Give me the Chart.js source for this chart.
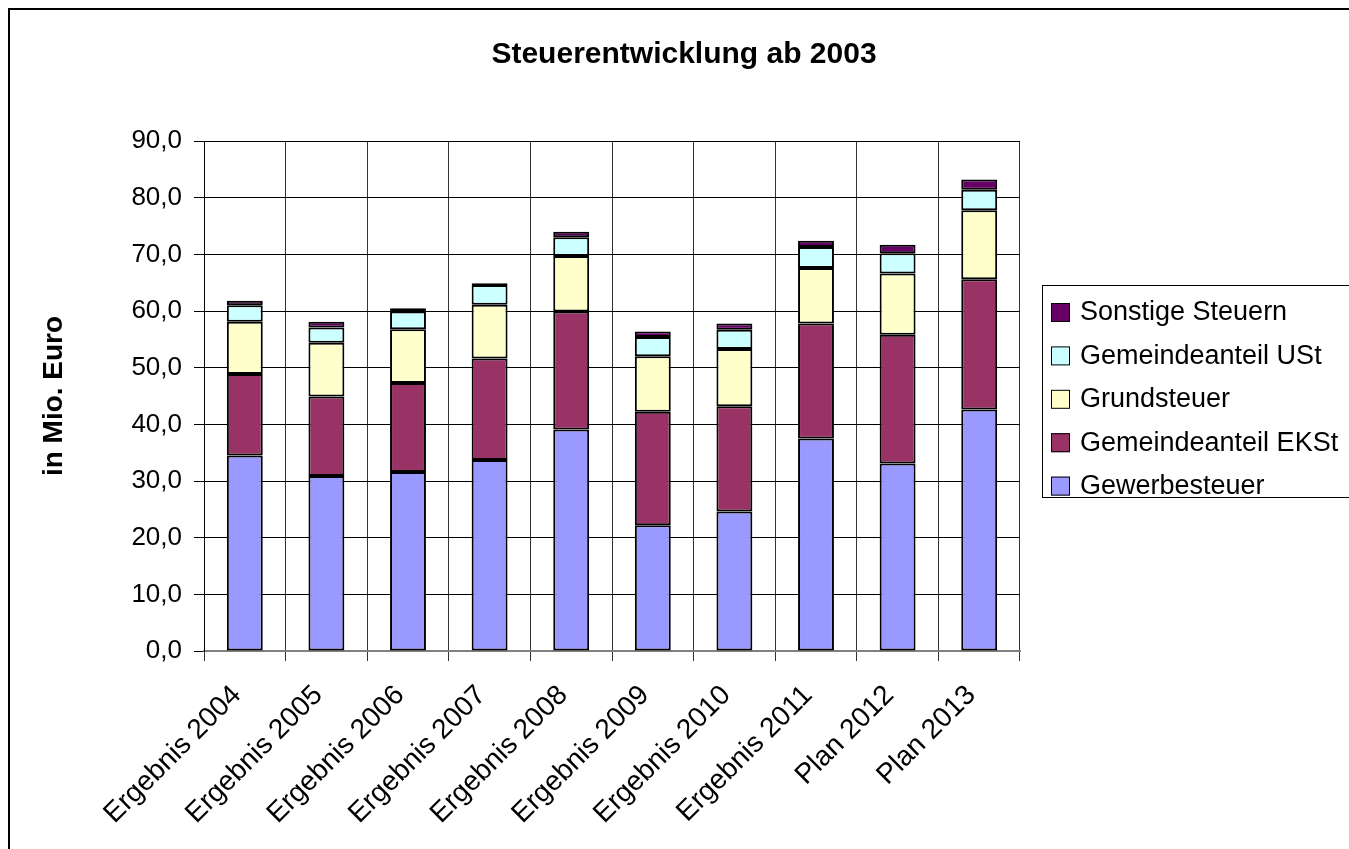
<!DOCTYPE html>
<html>
<head>
<meta charset="utf-8">
<script src="https://cdn.jsdelivr.net/npm/chart.js@4"></script>
<style>
html,body{margin:0;padding:0;background:#fff;}
#wrap{position:relative;width:1349px;height:849px;}
</style>
</head>
<body>
<div id="wrap"><canvas id="c" width="1349" height="849"></canvas></div>
<script>
const categories = ["Ergebnis 2004","Ergebnis 2005","Ergebnis 2006","Ergebnis 2007","Ergebnis 2008","Ergebnis 2009","Ergebnis 2010","Ergebnis 2011","Plan 2012","Plan 2013"];
const gewerbesteuer     = [34.5, 30.9, 31.6, 33.7, 39.1, 22.2, 24.6, 37.5, 33.1, 42.6];
const gemeindeanteilEKSt = [14.4, 14.0, 15.7, 17.9, 20.8, 20.0, 18.6, 20.3, 22.7, 23.0];
const grundsteuer       = [ 9.2,  9.5,  9.5,  9.5,  9.8,  9.8, 10.1,  9.8, 10.8, 12.2];
const gemeindeanteilUSt = [ 2.9,  2.7,  3.1,  3.5,  3.3,  3.4,  3.4,  3.7,  3.6,  3.6];
const sonstigeSteuern   = [ 0.8,  1.0,  0.6,  0.3,  1.0,  1.0,  1.1,  1.1,  1.5,  1.8];
const seriesNames = ["Gewerbesteuer","Gemeindeanteil EKSt","Grundsteuer","Gemeindeanteil USt","Sonstige Steuern"];
const chartTitle = "Steuerentwicklung ab 2003";
const yAxisTitle = "in Mio. Euro";
const yMin = 0, yMax = 90, yStep = 10;

const colors = ["#9999FF","#993366","#FFFFCC","#CCFFFF","#660066"];
const FONT = "'Liberation Sans', Arial, sans-serif";

const PAD_LEFT = 37, PLOT_LEFT = 204, PLOT_TOP = 141, PLOT_BOTTOM = 651, PLOT_RIGHT = 1020;

const decor = {
  id: 'decor',
  afterDraw(chart) {
    const ctx = chart.ctx;
    ctx.save();
    // outer border
    ctx.strokeStyle = '#000';
    ctx.lineWidth = 2;
    ctx.strokeRect(9, 9, 1360, 860);
    // title
    ctx.fillStyle = '#000';
    ctx.font = "bold 30px " + FONT;
    ctx.textAlign = 'center';
    ctx.textBaseline = 'middle';
    ctx.fillText(chartTitle, 684, 55);
    // legend
    const lx = 1042, ly = 285, lw = 320, lh = 212;
    ctx.fillStyle = '#fff';
    ctx.fillRect(lx, ly, lw, lh);
    ctx.strokeStyle = '#000';
    ctx.lineWidth = 1;
    ctx.strokeRect(lx + 0.5, ly + 0.5, lw, lh);
    const ds = chart.data.datasets.slice().reverse();
    ctx.font = "27px " + FONT;
    ctx.textAlign = 'left';
    ctx.textBaseline = 'middle';
    ds.forEach((d, i) => {
      const cy = 312 + i * 43.4;
      ctx.fillStyle = d.backgroundColor;
      ctx.fillRect(1051, cy - 9, 19, 19);
      ctx.strokeStyle = '#000';
      ctx.lineWidth = 1;
      ctx.strokeRect(1051.5, cy - 8.5, 18, 18);
      ctx.fillStyle = '#000';
      ctx.fillText(d.label, 1080, cy + 1);
    });
    ctx.restore();
  }
};

const seriesData = [gewerbesteuer, gemeindeanteilEKSt, grundsteuer, gemeindeanteilUSt, sonstigeSteuern];

new Chart(document.getElementById('c'), {
  type: 'bar',
  data: {
    labels: categories,
    datasets: seriesNames.map((n, i) => ({
      label: n,
      data: seriesData[i],
      backgroundColor: colors[i],
      borderColor: '#000',
      borderWidth: 2,
      borderSkipped: false,
      categoryPercentage: 1,
      barPercentage: 0.44
    }))
  },
  options: {
    responsive: false,
    animation: false,
    devicePixelRatio: 1,
    layout: { padding: { left: PAD_LEFT, top: PLOT_TOP, right: 1349 - PLOT_RIGHT, bottom: 0 } },
    plugins: {
      legend: { display: false },
      title: { display: false },
      tooltip: { enabled: false }
    },
    scales: {
      x: {
        stacked: true,
        offset: true,
        grid: { offset: true, color: '#333', lineWidth: 1, tickLength: 10, drawTicks: true },
        border: { color: '#808080', width: 2 },
        ticks: {
          autoSkip: false, maxRotation: 45, minRotation: 45,
          color: '#000', font: { family: FONT, size: 28 }, padding: 18, labelOffset: -8
        },
        afterFit(scale) { scale.height = 849 - PLOT_BOTTOM; }
      },
      y: {
        stacked: true,
        min: yMin, max: yMax,
        ticks: {
          stepSize: yStep, color: '#000', padding: 12,
          font: { family: FONT, size: 26 },
          callback: v => v.toFixed(1).replace('.', ',')
        },
        grid: { color: '#000', lineWidth: 1, tickLength: 10 },
        border: { color: '#000', width: 1 },
        title: { display: true, text: yAxisTitle, color: '#000', font: { family: FONT, size: 28, weight: 'bold' }, padding: 0 },
        afterFit(scale) { scale.width = PLOT_LEFT - PAD_LEFT; }
      }
    }
  },
  plugins: [decor]
});
</script>
</body>
</html>
